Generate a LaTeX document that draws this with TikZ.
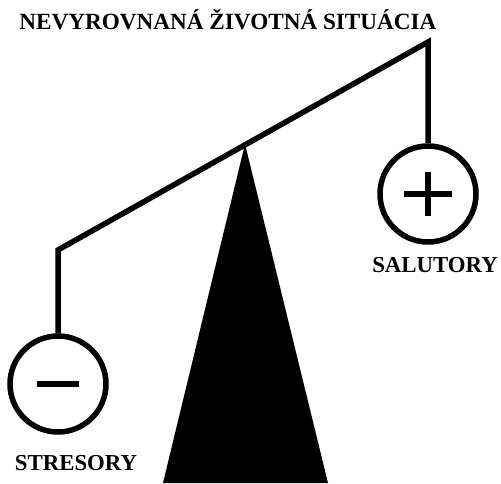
\documentclass[tikz,border=0pt]{standalone}
\usepackage{fontspec}
\setmainfont{Liberation Serif}
\usetikzlibrary{calc}

\begin{document}
\begin{tikzpicture}[
  x=1pt,y=1pt,
  bar/.style={line width=5.5pt,line join=miter},
  pan/.style={circle,draw,line width=5.5pt,minimum size=96pt,inner sep=0pt},
  sign/.style={line width=5.5pt},
  lbl/.style={font=\fontsize{22.8}{26}\selectfont\bfseries,anchor=base},
]
\useasboundingbox (0,0) rectangle (501,483);

% --- beam ends and pivot ---
\coordinate (left)  at (58,233);
\coordinate (right) at (428,441);
\coordinate (pivot) at (245,339);

% --- fulcrum ---
\fill (pivot) -- (328,0) -- (163,0) -- cycle;

% --- pans ---
\node[pan] (salut) at (428,289) {};
\node[pan] (stres) at (58,99) {};

% --- beam ---
\draw[bar] (stres.north) -- (left) -- (right) -- (salut.north);

% --- signs ---
\draw[sign] ($(salut.center)+(-24,0)$) -- ($(salut.center)+(24,0)$);
\draw[sign] ($(salut.center)+(0,-22)$) -- ($(salut.center)+(0,22)$);
\draw[sign] ($(stres.center)+(-21,0)$) -- ($(stres.center)+(21,0)$);

% --- labels ---
\node[lbl,font=\fontsize{23.2}{26}\selectfont\bfseries] (title) at (228,453) {NEVYROVNANÁ ŽIVOTNÁ SITUÁCIA};
\node[lbl] (salutlbl) at (435,211) {SALUTORY};
\node[lbl] (streslbl) at (76,13) {STRESORY};

\end{tikzpicture}
\end{document}
